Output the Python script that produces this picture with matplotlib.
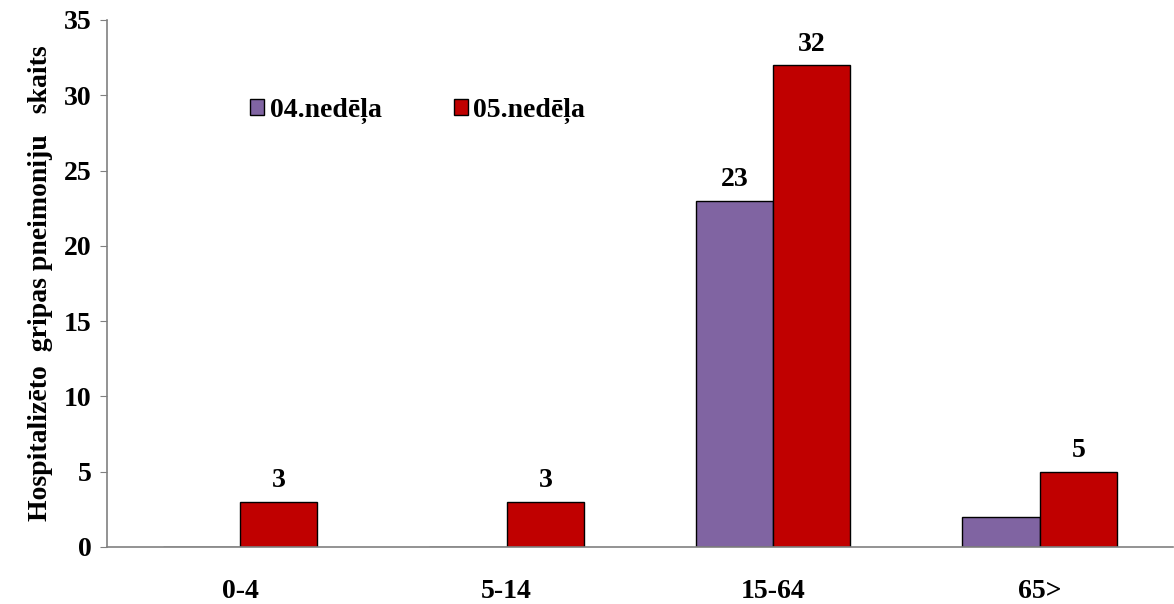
import numpy as np
import matplotlib.pyplot as plt

# data
categories = ['0-4', '5-14', '15-64', '65>']
week04 = [0, 0, 23, 2]
week05 = [3, 3, 32, 5]
series_names = ['04.nedēļa', '05.nedēļa']
labels04 = ['', '', '23', '']
labels05 = ['3', '3', '32', '5']

plt.rcParams['font.family'] = ['Liberation Serif', 'DejaVu Serif']
plt.rcParams['font.weight'] = 'bold'

fig = plt.figure(figsize=(11.74, 6.04), dpi=100)
ax = fig.add_axes([0.0911, 0.0944, 0.908, 0.8726])

x = np.arange(len(categories))
w = 0.29
b1 = ax.bar(x - w / 2, week04, w, color='#8064a2', edgecolor='black', linewidth=1, label=series_names[0])
b2 = ax.bar(x + w / 2, week05, w, color='#c00000', edgecolor='black', linewidth=1, label=series_names[1])
ax.bar_label(b1, labels=labels04, padding=6, fontsize=20, fontweight='bold')
ax.bar_label(b2, labels=labels05, padding=6, fontsize=20, fontweight='bold')

ax.set_xlim(-0.5, 3.5)
ax.set_ylim(0, 35)
ax.set_yticks(range(0, 36, 5))
ax.set_xticks(x)
ax.set_xticklabels(categories, fontsize=20, fontweight='bold')
ax.tick_params(axis='y', labelsize=20, length=5, color='#808080', pad=6)
ax.tick_params(axis='x', length=0, pad=23)
for s in ['top', 'right']:
    ax.spines[s].set_visible(False)
for s in ['left', 'bottom']:
    ax.spines[s].set_color('#808080')
    ax.spines[s].set_linewidth(1.2)

ax.set_ylabel('Hospitalizēto  gripas pneimoniju   skaits', fontsize=20, fontweight='bold', labelpad=8)

ax.legend(loc='upper left', bbox_to_anchor=(0.111, 0.90), ncol=2, frameon=False,
          fontsize=20, handlelength=0.5, handleheight=0.5, handletextpad=0.2,
          columnspacing=2.6)

plt.savefig('out.png', dpi=100)
